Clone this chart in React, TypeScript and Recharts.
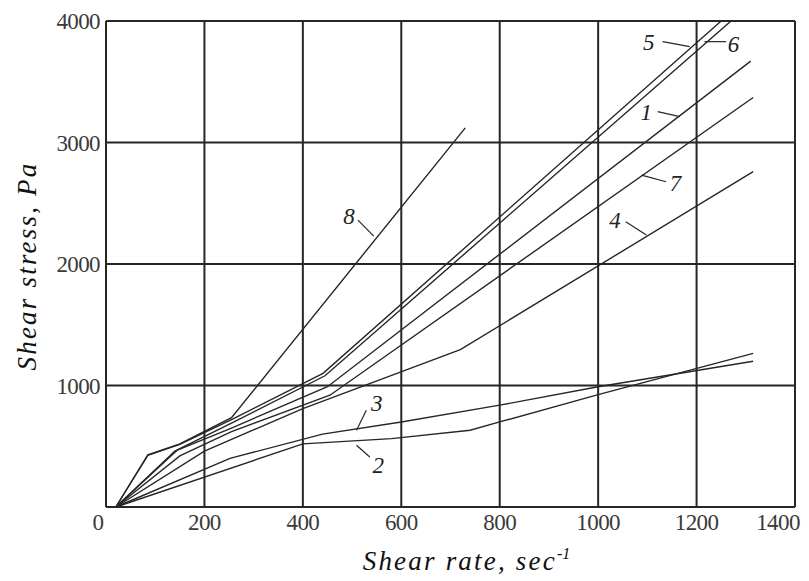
import { LineChart, Line, XAxis, YAxis, CartesianGrid, ReferenceLine, ReferenceDot, Label } from "recharts"

// shear rate (1/s), shear stress (Pa), one list per curve
const curve1: [number, number][] = [[20, 0], [140, 460], [255, 650], [450, 990], [1310, 3670]]
const curve2: [number, number][] = [[20, 0], [400, 520], [580, 563], [740, 632], [800, 700], [1000, 925], [1315, 1265]]
const curve3: [number, number][] = [[20, 0], [252, 400], [440, 600], [600, 700], [800, 838], [1000, 990], [1315, 1200]]
const curve4: [number, number][] = [[20, 0], [200, 460], [400, 810], [720, 1295], [1315, 2760]]
const curve5: [number, number][] = [[20, 0], [85, 425], [150, 515], [255, 720], [441, 1100], [1250, 4000]]
const curve6: [number, number][] = [[20, 0], [145, 470], [255, 690], [445, 1080], [1270, 4000]]
const curve7: [number, number][] = [[20, 0], [150, 420], [255, 620], [455, 920], [1315, 3370]]
const curve8: [number, number][] = [[20, 0], [85, 430], [150, 520], [255, 735], [730, 3120]]

const curves = [curve1, curve2, curve3, curve4, curve5, curve6, curve7, curve8]

const rateTicks = [0, 200, 400, 600, 800, 1000, 1200, 1400]
const stressTicks = [0, 1000, 2000, 3000, 4000]

// curve number labels: text spot and leader line to the curve
const labelNames = ["1", "2", "3", "4", "5", "6", "7", "8"]
const labelAt: [number, number][] = [[1098, 3255], [553, 345], [550, 860], [1034, 2365], [1103, 3830], [1275, 3810], [1157, 2665], [494, 2395]]
const leaderFrom: [number, number][] = [[1121, 3254], [536, 412], [529, 797], [1056, 2348], [1131, 3830], [1260, 3830], [1088, 2732], [512, 2361]]
const leaderTo: [number, number][] = [[1166, 3213], [509, 508], [509, 632], [1098, 2238], [1186, 3789], [1216, 3830], [1138, 2677], [544, 2229]]

const INK = "#262626"
const SERIF = "'Liberation Serif', 'DejaVu Serif', serif"

function RateTick(props: any) {
    const { x, y, payload, index } = props
    let dx = 0
    if (index === 0) dx = -8
    if (payload.value === 1400) dx = -14
    return (
        <text x={x + dx} y={y} dy="0.71em" textAnchor="middle" fontFamily={SERIF} fontSize={23} letterSpacing={-0.6} fill="#3a3a3a">
            {payload.value}
        </text>
    )
}

function StressTick(props: any) {
    const { x, y, payload } = props
    if (payload.value === 0) return null
    return (
        <text x={x} y={y} dy="0.35em" textAnchor="end" fontFamily={SERIF} fontSize={23} letterSpacing={-0.6} fill="#3a3a3a">
            {payload.value}
        </text>
    )
}

export default function App() {
    const series = curves.map(c => c.map(([rate, stress]) => ({ rate, stress })))

    return (
        <LineChart width={800} height={572} margin={{ top: 13, right: 13, bottom: 0, left: 0 }}>
            <CartesianGrid stroke={INK} strokeWidth={2} />
            <XAxis
                type="number"
                dataKey="rate"
                domain={[0, 1400]}
                ticks={rateTicks}
                height={73}
                tickLine={false}
                tickSize={0}
                tickMargin={7}
                axisLine={{ stroke: INK, strokeWidth: 2 }}
                tick={<RateTick />}
            >
                <Label
                    content={(p: any) => {
                        const { x, y, width } = p.viewBox
                        return (
                            <text x={x + width / 2 + 16} y={y + 63} textAnchor="middle" fontFamily={SERIF} fontStyle="italic" fontSize={27} letterSpacing={2.2} fill="#111">
                                Shear rate, sec<tspan dy={-11} fontSize={16} letterSpacing={0}>-1</tspan>
                            </text>
                        )
                    }}
                />
            </XAxis>
            <YAxis
                type="number"
                domain={[0, 4000]}
                ticks={stressTicks}
                width={98}
                tickLine={false}
                tickSize={0}
                tickMargin={6}
                axisLine={{ stroke: INK, strokeWidth: 2 }}
                tick={<StressTick />}
            >
                <Label
                    content={(p: any) => {
                        const { y, height } = p.viewBox
                        const cx = 28
                        const cy = y + height / 2 + 2
                        return (
                            <text x={cx} y={cy} transform={`rotate(-90, ${cx}, ${cy})`} textAnchor="middle" fontFamily={SERIF} fontStyle="italic" fontSize={27} letterSpacing={2.2} fill="#111">
                                Shear stress,  Pa
                            </text>
                        )
                    }}
                />
            </YAxis>
            {series.map((data, i) => (
                <Line
                    key={`curve-${i}`}
                    data={data}
                    dataKey="stress"
                    type="linear"
                    stroke={INK}
                    strokeWidth={1.4}
                    dot={false}
                    activeDot={false}
                    isAnimationActive={false}
                />
            ))}
            {labelNames.map((name, i) => (
                <ReferenceLine
                    key={`leader-${i}`}
                    segment={[{ x: leaderFrom[i][0], y: leaderFrom[i][1] }, { x: leaderTo[i][0], y: leaderTo[i][1] }]}
                    stroke={INK}
                    strokeWidth={1.2}
                />
            ))}
            {labelNames.map((name, i) => (
                <ReferenceDot
                    key={`label-${i}`}
                    x={labelAt[i][0]}
                    y={labelAt[i][1]}
                    r={0}
                    shape={(p: any) => (
                        <text x={p.cx} y={p.cy} dy="0.35em" textAnchor="middle" fontFamily={SERIF} fontStyle="italic" fontSize={23} fill="#222">
                            {name}
                        </text>
                    )}
                />
            ))}
        </LineChart>
    )
}
